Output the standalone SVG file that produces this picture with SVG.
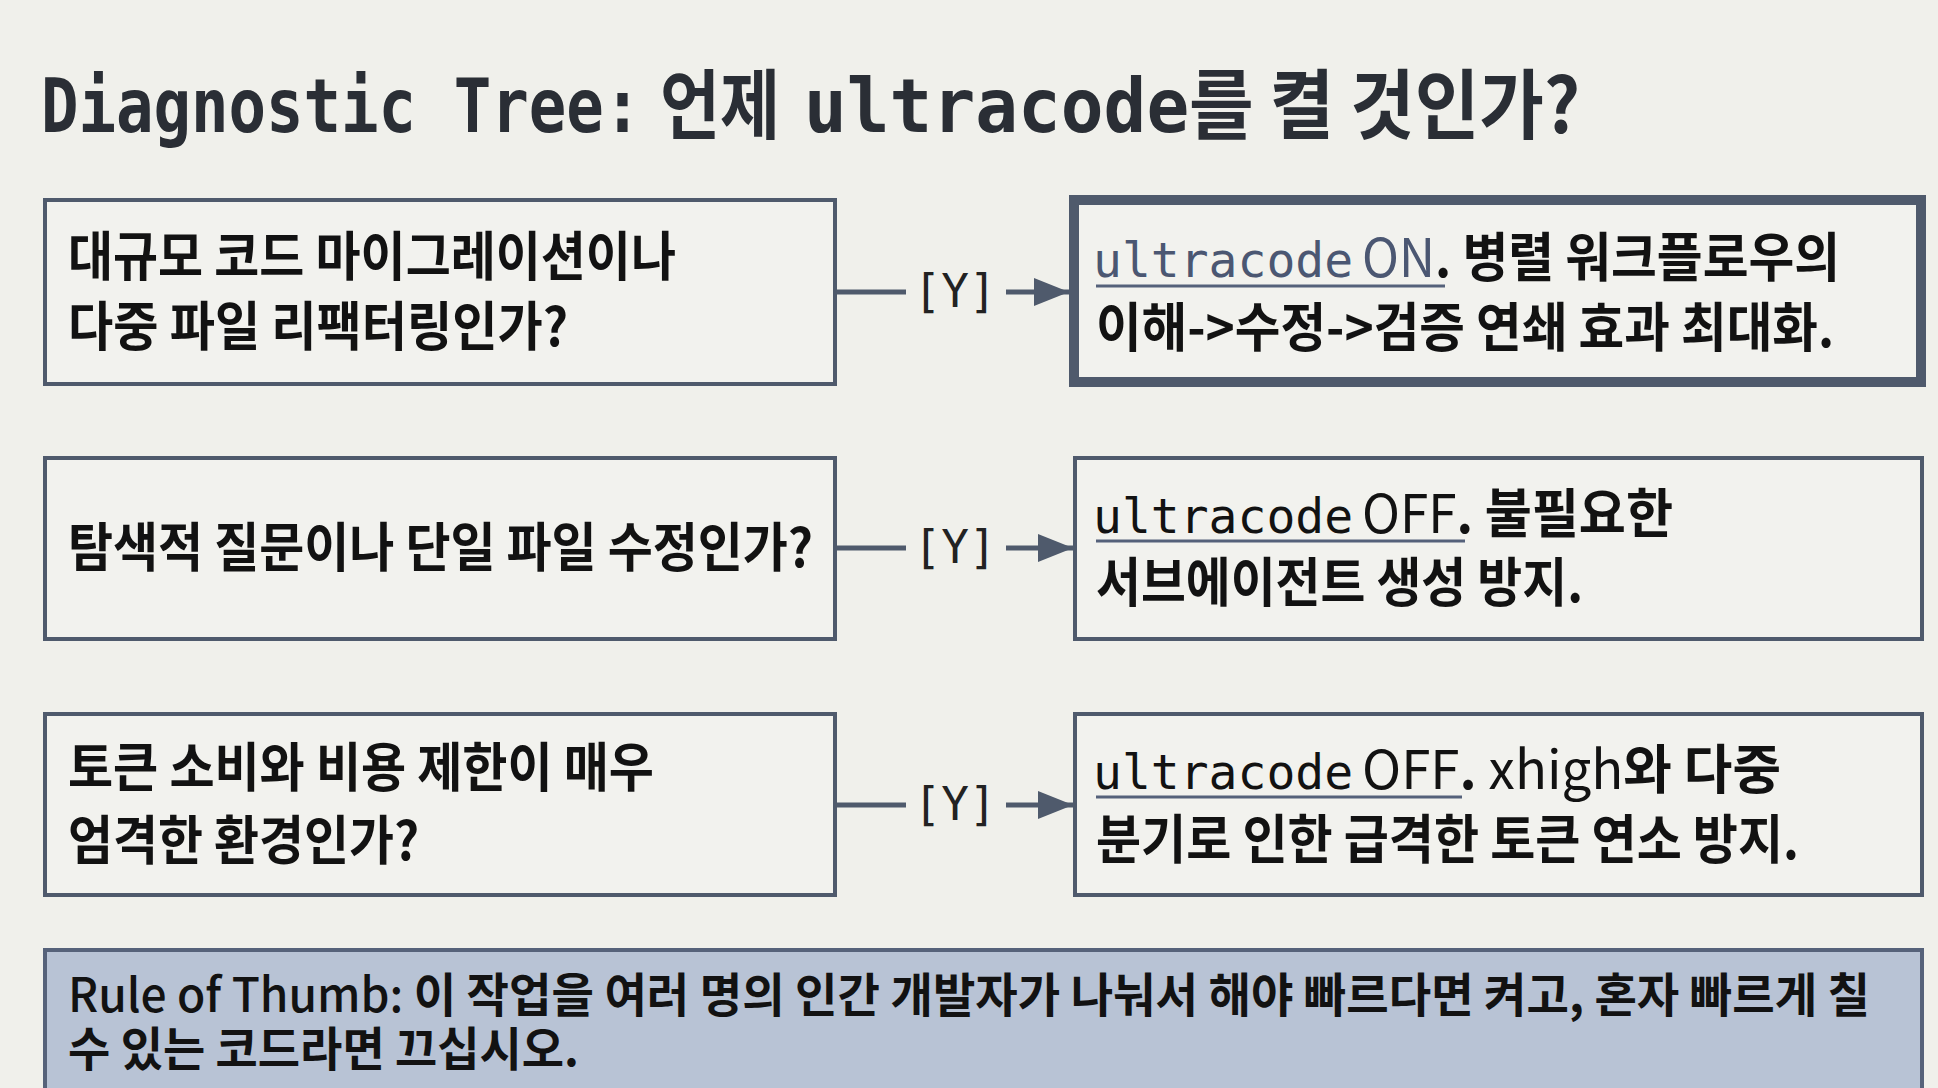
<svg xmlns="http://www.w3.org/2000/svg" width="1938" height="1088" viewBox="0 0 1938 1088">
<defs>
<style>
.bg{fill:#f0f0eb}
.box{fill:#f2f2ee;stroke:#4f5a6c;stroke-width:4}
.box-thick{fill:#f2f2ee;stroke:#4f5a6c;stroke-width:10}
.note{fill:#b8c3d5;stroke:#56627a;stroke-width:4}
.kr{font-family:"Noto Sans CJK KR","Noto Sans",sans-serif;font-weight:700;font-size:53px;fill:#121212}
.mono{font-family:"DejaVu Sans Mono","Liberation Mono",monospace;font-size:48px;font-weight:400}
.title-mono{font-family:"DejaVu Sans Mono","Liberation Mono",monospace;font-weight:700;font-size:75px;fill:#2a2e35}
.title-kr{font-family:"Noto Sans CJK KR","Noto Sans",sans-serif;font-weight:700;font-size:76px;fill:#2a2e35}
.yes{font-family:"DejaVu Sans Mono","Liberation Mono",monospace;font-size:46px;fill:#222}
.conn{stroke:#4f5a6c;stroke-width:5;fill:none}
.ul{stroke:#55617a;stroke-width:3}
.slate{fill:#4b5772}
.rule{font-family:"Noto Sans CJK KR","Noto Sans",sans-serif;font-size:47px;fill:#121212}
</style>
<marker id="arrow" markerUnits="userSpaceOnUse" markerWidth="36" markerHeight="30" refX="35" refY="15" orient="auto">
<path d="M0,1 L35,15 L0,29 Z" fill="#4f5a6c"/>
</marker>
</defs>
<rect class="bg" x="0" y="0" width="1938" height="1088"/>

<g id="title">
<text class="title-mono" transform="translate(41,132) scale(0.831,1)">Diagnostic Tree:</text>
<text class="title-kr" x="660" y="133" textLength="120" lengthAdjust="spacingAndGlyphs">언제</text>
<text class="title-mono" transform="translate(804,132) scale(0.948,1)">ultracode</text>
<text class="title-kr" x="1189" y="133" textLength="391" lengthAdjust="spacingAndGlyphs">를 켤 것인가?</text>
</g>

<g id="q1">
<rect class="box" x="45" y="200" width="790" height="184"/>
<text class="kr"><tspan x="68" y="276" textLength="608" lengthAdjust="spacingAndGlyphs">대규모 코드 마이그레이션이나</tspan><tspan x="68" y="346" textLength="500" lengthAdjust="spacingAndGlyphs">다중 파일 리팩터링인가?</tspan></text>
</g>

<g id="a1">
<rect class="box-thick" x="1074" y="200" width="847" height="182"/>
<line class="ul" x1="1096" y1="286" x2="1445" y2="286"/>
<text class="kr"><tspan class="mono slate" x="1093" y="277">ultracode</tspan><tspan x="1362" y="277" textLength="478" lengthAdjust="spacingAndGlyphs"><tspan class="slate" font-weight="400">ON</tspan>. 병렬 워크플로우의</tspan><tspan x="1096" y="347" textLength="738" lengthAdjust="spacingAndGlyphs">이해-&gt;수정-&gt;검증 연쇄 효과 최대화.</tspan></text>
</g>

<g id="q2">
<rect class="box" x="45" y="458" width="790" height="181"/>
<text class="kr" x="68" y="567" textLength="745" lengthAdjust="spacingAndGlyphs">탐색적 질문이나 단일 파일 수정인가?</text>
</g>

<g id="a2">
<rect class="box" x="1075" y="458" width="847" height="181"/>
<line class="ul" x1="1096" y1="541" x2="1465" y2="541"/>
<text class="kr"><tspan class="mono" x="1093" y="533">ultracode</tspan><tspan x="1362" y="533" textLength="311" lengthAdjust="spacingAndGlyphs"><tspan font-weight="400">OFF</tspan>. 불필요한</tspan><tspan x="1096" y="602" textLength="487" lengthAdjust="spacingAndGlyphs">서브에이전트 생성 방지.</tspan></text>
</g>

<g id="q3">
<rect class="box" x="45" y="714" width="790" height="181"/>
<text class="kr"><tspan x="68" y="787" textLength="586" lengthAdjust="spacingAndGlyphs">토큰 소비와 비용 제한이 매우</tspan><tspan x="68" y="860" textLength="351" lengthAdjust="spacingAndGlyphs">엄격한 환경인가?</tspan></text>
</g>

<g id="a3">
<rect class="box" x="1075" y="714" width="847" height="181"/>
<line class="ul" x1="1096" y1="797" x2="1462" y2="797"/>
<text class="kr"><tspan class="mono" x="1093" y="789">ultracode</tspan><tspan x="1362" y="789" textLength="419" lengthAdjust="spacingAndGlyphs"><tspan font-weight="400">OFF</tspan>. <tspan font-weight="400">xhigh</tspan>와 다중</tspan><tspan x="1096" y="859" textLength="703" lengthAdjust="spacingAndGlyphs">분기로 인한 급격한 토큰 연소 방지.</tspan></text>
</g>

<g id="connectors">
<line class="conn" x1="837" y1="292" x2="906" y2="292"/>
<text class="yes" x="955" y="307" text-anchor="middle">[Y]</text>
<line class="conn" x1="1006" y1="292" x2="1069" y2="292" marker-end="url(#arrow)"/>
<line class="conn" x1="837" y1="548" x2="906" y2="548"/>
<text class="yes" x="955" y="563" text-anchor="middle">[Y]</text>
<line class="conn" x1="1006" y1="548" x2="1073" y2="548" marker-end="url(#arrow)"/>
<line class="conn" x1="837" y1="805" x2="906" y2="805"/>
<text class="yes" x="955" y="820" text-anchor="middle">[Y]</text>
<line class="conn" x1="1006" y1="805" x2="1073" y2="805" marker-end="url(#arrow)"/>
</g>

<g id="rule">
<rect class="note" x="45" y="950" width="1877" height="170"/>
<text class="rule"><tspan x="68" y="1012" textLength="1802" lengthAdjust="spacingAndGlyphs"><tspan font-weight="500">Rule of Thumb:</tspan> <tspan font-weight="700">이 작업을 여러 명의 인간 개발자가 나눠서 해야 빠르다면 켜고, 혼자 빠르게 칠</tspan></tspan><tspan x="68" y="1066" font-weight="700" textLength="511" lengthAdjust="spacingAndGlyphs">수 있는 코드라면 끄십시오.</tspan></text>
</g>
</svg>
